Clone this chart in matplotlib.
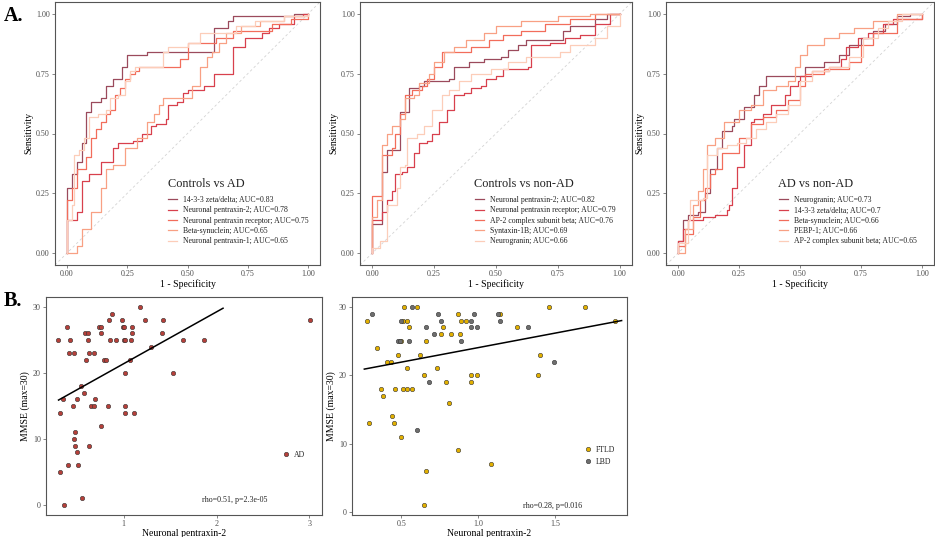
import numpy as np
import matplotlib
matplotlib.use("Agg")
import matplotlib.pyplot as plt
from matplotlib.lines import Line2D

plt.rcParams["font.family"] = ["Liberation Serif", "DejaVu Serif"]

# palette dark -> light
roc_colors = ["#9b4a5c", "#d8404d", "#f26d5b", "#f8a084", "#fccdb9"]

# ---- A. ROC curves, Controls vs AD
cad_title = "Controls vs AD"
cad_labels = ["14-3-3 zeta/delta; AUC=0.83", "Neuronal pentraxin-2; AUC=0.78",
              "Neuronal pentraxin receptor; AUC=0.75", "Beta-synuclein; AUC=0.65",
              "Neuronal pentraxin-1; AUC=0.65"]
cad_1433_fpr = [0, 0, 0.02, 0.04, 0.06, 0.08, 0.10, 0.14, 0.16, 0.19, 0.23, 0.25, 0.33, 0.61, 0.67, 0.69, 0.94, 1.0]
cad_1433_tpr = [0, 0.27, 0.33, 0.38, 0.46, 0.59, 0.63, 0.65, 0.70, 0.73, 0.78, 0.83, 0.84, 0.94, 0.97, 0.99, 1.0, 1.0]
cad_np2_fpr = [0, 0, 0.04, 0.06, 0.09, 0.14, 0.19, 0.21, 0.275, 0.31, 0.35, 0.37, 0.41, 0.42, 0.455, 0.48, 0.50, 0.57, 0.61, 0.69, 0.74, 0.81, 0.84, 0.88, 0.94, 0.98, 1.0]
cad_np2_tpr = [0, 0.14, 0.17, 0.30, 0.33, 0.38, 0.44, 0.46, 0.47, 0.50, 0.53, 0.54, 0.56, 0.62, 0.63, 0.67, 0.68, 0.70, 0.75, 0.86, 0.90, 0.92, 0.94, 0.96, 0.99, 1.0, 1.0]
cad_npr_fpr = [0, 0, 0.02, 0.04, 0.08, 0.10, 0.12, 0.14, 0.16, 0.18, 0.20, 0.22, 0.24, 0.26, 0.28, 0.30, 0.47, 0.50, 0.62, 0.69, 0.85, 0.93, 1.0]
cad_npr_tpr = [0, 0.22, 0.27, 0.35, 0.40, 0.48, 0.52, 0.55, 0.58, 0.60, 0.66, 0.69, 0.73, 0.75, 0.76, 0.78, 0.81, 0.88, 0.90, 0.93, 0.96, 0.98, 1.0]
cad_bsyn_fpr = [0, 0.04, 0.06, 0.10, 0.14, 0.16, 0.19, 0.24, 0.29, 0.33, 0.36, 0.38, 0.40, 0.52, 0.55, 0.58, 0.60, 0.63, 0.66, 0.72, 0.80, 0.90, 1.0]
cad_bsyn_tpr = [0, 0.03, 0.10, 0.17, 0.27, 0.35, 0.37, 0.44, 0.48, 0.55, 0.58, 0.62, 0.65, 0.70, 0.78, 0.82, 0.84, 0.88, 0.92, 0.95, 0.97, 0.99, 1.0]
cad_np1_fpr = [0, 0, 0.02, 0.03, 0.05, 0.07, 0.09, 0.13, 0.16, 0.18, 0.21, 0.24, 0.26, 0.28, 0.40, 0.42, 0.50, 0.55, 0.70, 0.78, 0.90, 1.0]
cad_np1_tpr = [0, 0.14, 0.20, 0.41, 0.43, 0.48, 0.57, 0.58, 0.60, 0.65, 0.66, 0.72, 0.76, 0.78, 0.84, 0.86, 0.88, 0.92, 0.95, 0.97, 0.99, 1.0]

# ---- Controls vs non-AD
cnad_title = "Controls vs non-AD"
cnad_labels = ["Neuronal pentraxin-2; AUC=0.82", "Neuronal pentraxin receptor; AUC=0.79",
               "AP-2 complex subunit beta; AUC=0.76", "Syntaxin-1B; AUC=0.69",
               "Neurogranin; AUC=0.66"]
cnad_np2_fpr = [0, 0, 0.04, 0.06, 0.11, 0.15, 0.19, 0.21, 0.31, 0.33, 0.39, 0.45, 0.52, 0.55, 0.59, 0.62, 0.77, 0.80, 0.90, 0.95, 1.0]
cnad_np2_tpr = [0, 0.12, 0.34, 0.43, 0.59, 0.69, 0.70, 0.72, 0.73, 0.78, 0.80, 0.81, 0.82, 0.85, 0.87, 0.89, 0.93, 0.95, 0.98, 1.0, 1.0]
cnad_npr_fpr = [0, 0, 0.04, 0.06, 0.08, 0.09, 0.12, 0.14, 0.17, 0.19, 0.22, 0.24, 0.27, 0.30, 0.33, 0.37, 0.40, 0.44, 0.46, 0.50, 0.53, 0.63, 0.64, 0.72, 0.78, 0.84, 0.90, 0.95, 0.96, 1.0]
cnad_npr_tpr = [0, 0.14, 0.17, 0.22, 0.26, 0.33, 0.34, 0.36, 0.42, 0.46, 0.47, 0.50, 0.55, 0.60, 0.66, 0.67, 0.69, 0.70, 0.73, 0.74, 0.77, 0.78, 0.87, 0.88, 0.90, 0.91, 0.96, 0.96, 1.0, 1.0]
cnad_ap2_fpr = [0, 0, 0.04, 0.08, 0.09, 0.11, 0.13, 0.16, 0.20, 0.22, 0.25, 0.28, 0.35, 0.40, 0.47, 0.53, 0.60, 0.70, 0.80, 0.90, 1.0]
cnad_ap2_tpr = [0, 0.24, 0.41, 0.44, 0.50, 0.58, 0.66, 0.68, 0.70, 0.73, 0.78, 0.84, 0.84, 0.86, 0.89, 0.91, 0.93, 0.96, 0.98, 1.0, 1.0]
cnad_stx_fpr = [0, 0, 0.02, 0.04, 0.06, 0.08, 0.11, 0.13, 0.17, 0.19, 0.23, 0.25, 0.29, 0.33, 0.38, 0.45, 0.50, 0.60, 0.75, 0.88, 1.0]
cnad_stx_tpr = [0, 0.15, 0.22, 0.45, 0.50, 0.53, 0.56, 0.65, 0.66, 0.71, 0.75, 0.80, 0.84, 0.86, 0.89, 0.92, 0.95, 0.97, 0.99, 1.0, 1.0]
cnad_ngrn_fpr = [0, 0, 0.03, 0.06, 0.10, 0.11, 0.13, 0.14, 0.18, 0.21, 0.24, 0.28, 0.31, 0.35, 0.40, 0.48, 0.55, 0.62, 0.76, 0.80, 0.90, 0.95, 1.0]
cnad_ngrn_tpr = [0, 0.02, 0.05, 0.20, 0.27, 0.36, 0.37, 0.48, 0.50, 0.53, 0.60, 0.66, 0.68, 0.72, 0.75, 0.77, 0.80, 0.82, 0.84, 0.87, 0.90, 0.95, 1.0]

# ---- AD vs non-AD
adn_title = "AD vs non-AD"
adn_labels = ["Neurogranin; AUC=0.73", "14-3-3 zeta/delta; AUC=0.7",
              "Beta-synuclein; AUC=0.66", "PEBP-1; AUC=0.66",
              "AP-2 complex subunit beta; AUC=0.65"]
adn_ngrn_fpr = [0, 0, 0.02, 0.04, 0.08, 0.11, 0.13, 0.16, 0.18, 0.22, 0.23, 0.27, 0.31, 0.33, 0.36, 0.50, 0.52, 0.60, 0.66, 0.70, 0.75, 0.80, 0.85, 0.90, 0.95, 1.0]
adn_ngrn_tpr = [0, 0.05, 0.14, 0.16, 0.17, 0.25, 0.35, 0.44, 0.51, 0.53, 0.56, 0.61, 0.66, 0.70, 0.74, 0.74, 0.78, 0.80, 0.83, 0.87, 0.90, 0.93, 0.96, 0.99, 1.0, 1.0]
adn_1433_fpr = [0, 0, 0.02, 0.04, 0.10, 0.15, 0.20, 0.21, 0.22, 0.24, 0.27, 0.30, 0.31, 0.35, 0.38, 0.42, 0.44, 0.46, 0.49, 0.50, 0.55, 0.62, 0.67, 0.69, 0.74, 0.78, 0.84, 0.88, 1.0]
adn_1433_tpr = [0, 0.05, 0.10, 0.14, 0.15, 0.16, 0.18, 0.20, 0.27, 0.36, 0.45, 0.55, 0.56, 0.58, 0.62, 0.62, 0.66, 0.70, 0.72, 0.74, 0.76, 0.78, 0.81, 0.86, 0.90, 0.92, 0.96, 0.98, 1.0]
adn_bsyn_fpr = [0, 0, 0.03, 0.06, 0.09, 0.11, 0.13, 0.15, 0.18, 0.25, 0.30, 0.35, 0.40, 0.45, 0.50, 0.52, 0.60, 0.70, 0.75, 0.80, 0.90, 1.0]
adn_bsyn_tpr = [0, 0.03, 0.08, 0.15, 0.22, 0.27, 0.33, 0.35, 0.42, 0.48, 0.54, 0.57, 0.60, 0.64, 0.70, 0.75, 0.77, 0.80, 0.87, 0.92, 0.98, 1.0]
adn_pebp_fpr = [0, 0, 0.03, 0.06, 0.08, 0.10, 0.12, 0.15, 0.19, 0.25, 0.30, 0.35, 0.40, 0.45, 0.48, 0.50, 0.53, 0.60, 0.66, 0.72, 0.80, 0.90, 1.0]
adn_pebp_tpr = [0, 0.0, 0.10, 0.20, 0.26, 0.35, 0.45, 0.48, 0.55, 0.60, 0.62, 0.68, 0.70, 0.72, 0.78, 0.83, 0.87, 0.90, 0.92, 0.94, 0.97, 1.0, 1.0]
adn_ap2_fpr = [0, 0, 0.04, 0.05, 0.10, 0.12, 0.16, 0.20, 0.24, 0.28, 0.32, 0.36, 0.40, 0.45, 0.50, 0.55, 0.62, 0.70, 0.76, 0.82, 0.86, 0.92, 1.0]
adn_ap2_tpr = [0, 0.04, 0.14, 0.22, 0.23, 0.41, 0.44, 0.45, 0.46, 0.48, 0.52, 0.55, 0.58, 0.62, 0.72, 0.76, 0.78, 0.82, 0.90, 0.94, 0.97, 1.0, 1.0]

# ---- B. MMSE vs Neuronal pentraxin-2
ad_np2 = [0.29, 0.39, 0.41, 0.42, 0.47, 0.32, 0.35, 0.32, 0.36, 0.40, 0.46, 0.47, 0.48, 0.48,
          0.50, 0.50, 0.51, 0.54, 0.55, 0.57, 0.58, 0.60, 0.62, 0.62, 0.63, 0.63, 0.65, 0.68,
          0.68, 0.69, 0.73, 0.76, 0.76, 0.76, 0.79, 0.81, 0.83, 0.84, 0.85, 0.87, 0.92, 0.98,
          0.99, 1.00, 1.00, 1.01, 1.02, 1.02, 1.02, 1.07, 1.08, 1.09, 1.09, 1.11, 1.18, 1.23,
          1.30, 1.41, 1.42, 1.53, 1.64, 1.86, 3.01]
ad_mmse = [25, 27, 23, 25, 23, 14, 16, 5, 0, 6, 15, 10, 9, 11,
           16, 8, 6, 18, 1, 17, 26, 22, 25, 26, 23, 9, 15, 15,
           23, 16, 27, 12, 27, 26, 22, 22, 15, 28, 25, 29, 25, 28,
           27, 25, 27, 20, 25, 15, 14, 22, 25, 27, 26, 14, 30, 28,
           24, 26, 28, 20, 25, 25, 28]
ad_fit_x = [0.30, 2.07]
ad_fit_y = [15.9, 29.8]
ad_stat = "rho=0.51, p=2.3e-05"

ftld_np2 = [0.28, 0.29, 0.34, 0.37, 0.38, 0.41, 0.43, 0.44, 0.45, 0.46, 0.48, 0.50, 0.50,
            0.51, 0.51, 0.52, 0.54, 0.54, 0.54, 0.55, 0.57, 0.60, 0.62, 0.65, 0.66, 0.66,
            0.65, 0.73, 0.76, 0.77, 0.79, 0.81, 0.82, 0.87, 0.87, 0.88, 0.89, 0.92, 0.95,
            0.95, 0.99, 1.08, 1.14, 1.25, 1.39, 1.40, 1.46, 1.69, 1.89]
ftld_mmse = [28, 13, 24, 18, 17, 22, 22, 14, 13, 18, 23, 11, 25,
             28, 18, 30, 28, 21, 18, 27, 18, 30, 23, 20, 25, 6,
             1, 21, 26, 27, 19, 16, 26, 29, 9, 26, 28, 28, 20,
             19, 20, 7, 29, 27, 20, 23, 30, 30, 28]
lbd_np2 = [0.31, 0.48, 0.49, 0.50, 0.55, 0.57, 0.60, 0.66, 0.68, 0.71, 0.74, 0.76, 0.89,
           0.95, 0.95, 0.97, 0.99, 1.13, 1.14, 1.32, 1.49]
lbd_mmse = [29, 25, 25, 28, 25, 30, 12, 27, 19, 26, 29, 28, 25,
            28, 27, 29, 27, 29, 28, 27, 22]
nonad_fit_x = [0.26, 1.93]
nonad_fit_y = [20.9, 28.0]
nonad_stat = "rho=0.28, p=0.016"

W, H = 935, 537
fig = plt.figure(figsize=(W / 100, H / 100), dpi=100)


def box(l, r, t, b):
    return [l / W, 1 - b / H, (r - l) / W, (b - t) / H]


def fy(y):
    return 1 - y / H


def style_axes(ax):
    for s in ax.spines.values():
        s.set_color("#555555")
        s.set_linewidth(0.8)
    ax.tick_params(length=2, width=0.5, color="#555555", labelsize=5.8,
                   labelcolor="#4d4d4d", pad=1.8)


def roc_panel(rect, curves, labels, title, title_xy, leg_xy):
    ax = fig.add_axes(box(*rect))
    ax.axline((0, 0), (1, 1), color="#d3d3d3", lw=0.6, ls=(0, (3, 3)), zorder=1)
    handles = []
    for (fpr, tpr), c, lab in zip(curves, roc_colors, labels):
        ax.plot(fpr, tpr, drawstyle="steps-post", color=c, lw=0.9, zorder=2)
        handles.append(Line2D([], [], color=c, lw=0.9, label=lab))
    ax.set_xlim(-0.05, 1.05)
    ax.set_ylim(-0.05, 1.05)
    ticks = [0, 0.25, 0.5, 0.75, 1.0]
    ax.set_xticks(ticks, ["0.00", "0.25", "0.50", "0.75", "1.00"])
    ax.set_yticks(ticks, ["0.00", "0.25", "0.50", "0.75", "1.00"])
    style_axes(ax)
    ax.set_xlabel("1 - Specificity", fontsize=7.0, labelpad=0.5)
    ax.set_ylabel("Sensitivity", fontsize=7.0, labelpad=2)
    fig.text(title_xy[0] / W, fy(title_xy[1]), title, fontsize=8.8, color="#222222",
             ha="left", va="center")
    leg = ax.legend(handles=handles, loc="upper left",
                    bbox_to_anchor=(leg_xy[0] / W, fy(leg_xy[1])),
                    bbox_transform=fig.transFigure, frameon=False, fontsize=5.6,
                    handlelength=1.1, handletextpad=0.8,
                    labelspacing=0.3, borderpad=0, borderaxespad=0)
    for t in leg.get_texts():
        t.set_color("#222222")
    return ax


roc_panel((55, 320, 2, 265),
          [(cad_1433_fpr, cad_1433_tpr), (cad_np2_fpr, cad_np2_tpr), (cad_npr_fpr, cad_npr_tpr),
           (cad_bsyn_fpr, cad_bsyn_tpr), (cad_np1_fpr, cad_np1_tpr)],
          cad_labels, cad_title, (168, 184), (168, 196))
roc_panel((360, 632, 2, 265),
          [(cnad_np2_fpr, cnad_np2_tpr), (cnad_npr_fpr, cnad_npr_tpr), (cnad_ap2_fpr, cnad_ap2_tpr),
           (cnad_stx_fpr, cnad_stx_tpr), (cnad_ngrn_fpr, cnad_ngrn_tpr)],
          cnad_labels, cnad_title, (474, 184), (475, 196))
roc_panel((666, 934, 2, 265),
          [(adn_ngrn_fpr, adn_ngrn_tpr), (adn_1433_fpr, adn_1433_tpr), (adn_bsyn_fpr, adn_bsyn_tpr),
           (adn_pebp_fpr, adn_pebp_tpr), (adn_ap2_fpr, adn_ap2_tpr)],
          adn_labels, adn_title, (778, 184), (779, 196))


# B panels
def scatter_panel(rect, groups, fit_x, fit_y, stat, xlim, ylim, xticks, xticklabels, leg_xy, stat_xy):
    ax = fig.add_axes(box(*rect))
    handles = []
    for x, y, c, lab in groups:
        ax.scatter(x, y, s=10, color=c, edgecolor="#333333", linewidth=0.4, zorder=3)
        handles.append(Line2D([], [], ls="", marker="o", markersize=3.2, markerfacecolor=c,
                              markeredgecolor="#333333", markeredgewidth=0.4, label=lab))
    ax.plot(fit_x, fit_y, color="black", lw=1.1, zorder=4)
    ax.set_xlim(*xlim)
    ax.set_ylim(*ylim)
    ax.set_xticks(xticks, xticklabels)
    ax.set_yticks([0, 10, 20, 30])
    style_axes(ax)
    ax.set_xlabel("Neuronal pentraxin-2", fontsize=7.0, labelpad=0.5)
    ax.set_ylabel("MMSE (max=30)", fontsize=7.0, labelpad=2)
    leg = ax.legend(handles=handles, loc="upper left",
                    bbox_to_anchor=(leg_xy[0] / W, fy(leg_xy[1])),
                    bbox_transform=fig.transFigure, frameon=False, fontsize=5.6,
                    handlelength=0.8, handletextpad=0.6, labelspacing=0.45,
                    borderpad=0, borderaxespad=0)
    for t in leg.get_texts():
        t.set_color("#222222")
    fig.text(stat_xy[0] / W, fy(stat_xy[1]), stat, fontsize=5.8, color="#222222",
             ha="left", va="center")
    return ax


scatter_panel((46, 322, 297, 515), [(ad_np2, ad_mmse, "#b5403a", "AD")],
              ad_fit_x, ad_fit_y, ad_stat, (0.165, 3.135), (-1.5, 31.5),
              [1, 2, 3], ["1", "2", "3"], (283, 451), (202, 500))
scatter_panel((352, 627, 297, 515),
              [(ftld_np2, ftld_mmse, "#e2b000", "FTLD"), (lbd_np2, lbd_mmse, "#6e6e6e", "LBD")],
              nonad_fit_x, nonad_fit_y, nonad_stat, (0.18, 1.965), (-0.45, 31.45),
              [0.5, 1.0, 1.5], ["0.5", "1.0", "1.5"], (585, 446), (523, 506))

fig.text(4 / W, fy(16), "A.", fontsize=14.5, fontweight="bold", va="center", ha="left")
fig.text(4 / W, fy(301), "B.", fontsize=14.5, fontweight="bold", va="center", ha="left")

fig.savefig("out.png", dpi=100)
